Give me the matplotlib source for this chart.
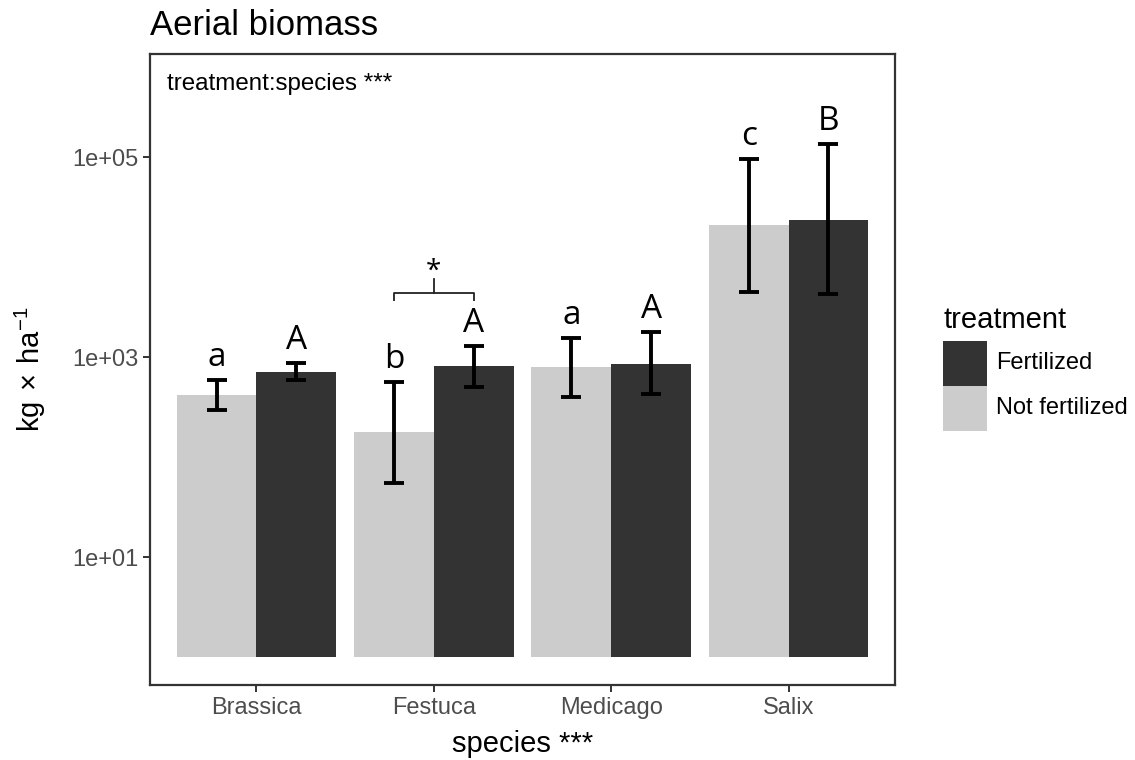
import matplotlib
matplotlib.use('Agg')
import matplotlib.pyplot as plt
from matplotlib.patches import Rectangle
import numpy as np

plt.rcParams['font.family'] = ['Liberation Sans', 'DejaVu Sans']
plt.rcParams['mathtext.fontset'] = 'custom'
plt.rcParams['mathtext.rm'] = 'Liberation Sans'

species = ['Brassica', 'Festuca', 'Medicago', 'Salix']
treatments = ['Not fertilized', 'Fertilized']

# means and error bar limits (kg/ha)
nf_mean = np.array([417, 177, 800, 20900])
nf_low = np.array([295, 55, 401, 4440])
nf_high = np.array([589, 566, 1560, 94800])
f_mean = np.array([713, 813, 851, 23400])
f_low = np.array([589, 505, 424, 4240])
f_high = np.array([877, 1290, 1780, 135000])

nf_letters = ['a', 'b', 'a', 'c']
f_letters = ['A', 'A', 'A', 'B']

# Festuca bracket (bar height, end ticks, stem top)
bracket_y = [3630, 4340, 6030]

colors = {'Not fertilized': '#CCCCCC', 'Fertilized': '#333333'}
W, H = 1135, 760
fig = plt.figure(figsize=(W / 100, H / 100), dpi=100)
ax = fig.add_axes([150 / W, 1 - 685 / H, 745 / W, 631 / H])

x = np.arange(1, len(species) + 1)
bw = 0.45
base = 1.0
groups = [(x - bw / 2, nf_mean, nf_low, nf_high, nf_letters, 'Not fertilized'),
          (x + bw / 2, f_mean, f_low, f_high, f_letters, 'Fertilized')]
for xs, m, lo, hi, letters, name in groups:
    ax.bar(xs, m - base, bottom=base, width=bw, color=colors[name], linewidth=0)
    ax.errorbar(xs, m, yerr=[m - lo, hi - m], fmt='none', ecolor='black',
                elinewidth=2.8, capsize=7, capthick=2.8)
    for xi, yi, lab in zip(xs, hi, letters):
        ax.annotate(lab, (xi, yi), xytext=(0, 10), textcoords='offset points',
                    ha='center', va='baseline', fontsize=24, family='Open Sans')

# significance bracket over Festuca
x0, x1 = 2 - bw / 2, 2 + bw / 2
ax.plot([x0, x0, x1, x1], [bracket_y[0], bracket_y[1], bracket_y[1], bracket_y[0]],
        color='#222222', lw=1.3, solid_capstyle='butt')
ax.plot([2, 2], [bracket_y[1], bracket_y[2]], color='#222222', lw=1.3)
ax.annotate('*', (2, bracket_y[2]), xytext=(0, 0.5), textcoords='offset points',
            ha='center', va='baseline', fontsize=20, family='Open Sans')

ax.set_yscale('log')
ax.set_ylim(10 ** -0.28, 10 ** 6.03)
ax.set_xlim(0.4, 4.6)
ax.set_yticks([1e1, 1e3, 1e5])
ax.set_yticklabels(['1e+01', '1e+03', '1e+05'])
ax.yaxis.set_minor_locator(matplotlib.ticker.NullLocator())
ax.set_xticks(x)
ax.set_xticklabels(species)
ax.tick_params(axis='both', length=5, width=1.4, color='#333333',
               labelcolor='#4D4D4D', labelsize=17, pad=3.5)
for s in ax.spines.values():
    s.set_color('#333333')
    s.set_linewidth(1.6)

ax.set_xlabel('species ***', fontsize=21)
ax.xaxis.label.set_va('baseline')
ax.xaxis.set_label_coords(0.5, -(752 - 685) / 631)
ax.set_ylabel('kg$\\,\\times\\,$ha$^{-1}$', fontsize=21)
ax.yaxis.label.set_va('center')
ax.yaxis.set_label_coords(-(150 - 30) / 745, 0.5)

ax.text(0, 1 + 19 / 631, 'Aerial biomass', transform=ax.transAxes,
        fontsize=25, va='baseline', ha='left')
ax.text(17 / 745, 1 - 36 / 631, 'treatment:species ***', transform=ax.transAxes,
        fontsize=17.4, va='baseline', ha='left')

# legend (drawn by hand so keys touch like ggplot)
fig.text(943 / W, 1 - 328 / H, 'treatment', fontsize=21, va='baseline')
for i, name in enumerate(['Fertilized', 'Not fertilized']):
    top = 341 + 45 * i
    fig.add_artist(Rectangle((943 / W, 1 - (top + 45) / H), 44 / W, 45 / H,
                             transform=fig.transFigure, color=colors[name], lw=0))
    fig.text(996 / W, 1 - (top + 22.5) / H, name, fontsize=17, va='center')

fig.savefig('out.png', dpi=100)
